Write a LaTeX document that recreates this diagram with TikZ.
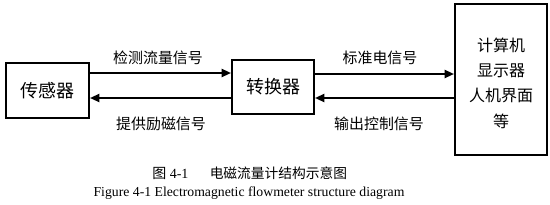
\documentclass[tikz,border=0pt]{standalone}
\usepackage{fontspec}
\setmainfont{Liberation Serif}
\newfontfamily\cjk{Noto Sans CJK SC}
\usetikzlibrary{arrows.meta}
\begin{document}
\begin{tikzpicture}[x=0.75pt,y=-0.75pt,
  blk/.style={draw,line width=1.5pt,inner sep=0pt,anchor=north west},
  arr/.style={line width=1.5pt,-{Triangle[length=7pt,width=6pt]}},
  lbl/.style={font=\cjk\fontsize{11.2}{13}\selectfont,inner sep=0pt}]
\useasboundingbox (0,0) rectangle (550,204);
\node[blk,minimum width=83*0.75pt,minimum height=55*0.75pt] (b1) at (5,62) {};
\node[font=\cjk\fontsize{13.5}{15}\selectfont] at (b1.center) {传感器};
\node[blk,minimum width=82*0.75pt,minimum height=54*0.75pt] (b2) at (231,59) {};
\node[font=\cjk\fontsize{13.5}{15}\selectfont] at (b2.center) {转换器};
\node[blk,minimum width=92*0.75pt,minimum height=151*0.75pt] (b3) at (454,3) {};
\node[font=\cjk\fontsize{12}{14}\selectfont,align=center,inner sep=0pt] (t3) at (501,83)
  {计算机\\[5pt]显示器\\[5pt]人机界面\\[5pt]等};
\draw[arr] (b1.east |- 0,73) -- (b2.west |- 0,73);
\draw[arr] (b2.west |- 0,98) -- (b1.east |- 0,98);
\draw[arr] (b2.east |- 0,74) -- (b3.west |- 0,74);
\draw[arr] (b3.west |- 0,98) -- (b2.east |- 0,98);
\node[lbl] (l1) at (158,58) {检测流量信号};
\node[lbl] (l2) at (161,124) {提供励磁信号};
\node[lbl] (l3) at (380,58) {标准电信号};
\node[lbl] (l4) at (379,124) {输出控制信号};
\node[inner sep=0pt,anchor=west] (c1) at (152,173) {{\cjk\fontsize{10.5}{12}\selectfont 图}\fontsize{10.5}{12}\selectfont\ 4-1\hspace{16pt}{\cjk\fontsize{10.3}{12}\selectfont 电磁流量计结构示意图}};
\node[inner sep=0pt,font=\fontsize{10.3}{12}\selectfont] (c2) at (249,193) {Figure 4-1 Electromagnetic flowmeter structure diagram};
\end{tikzpicture}
\end{document}
